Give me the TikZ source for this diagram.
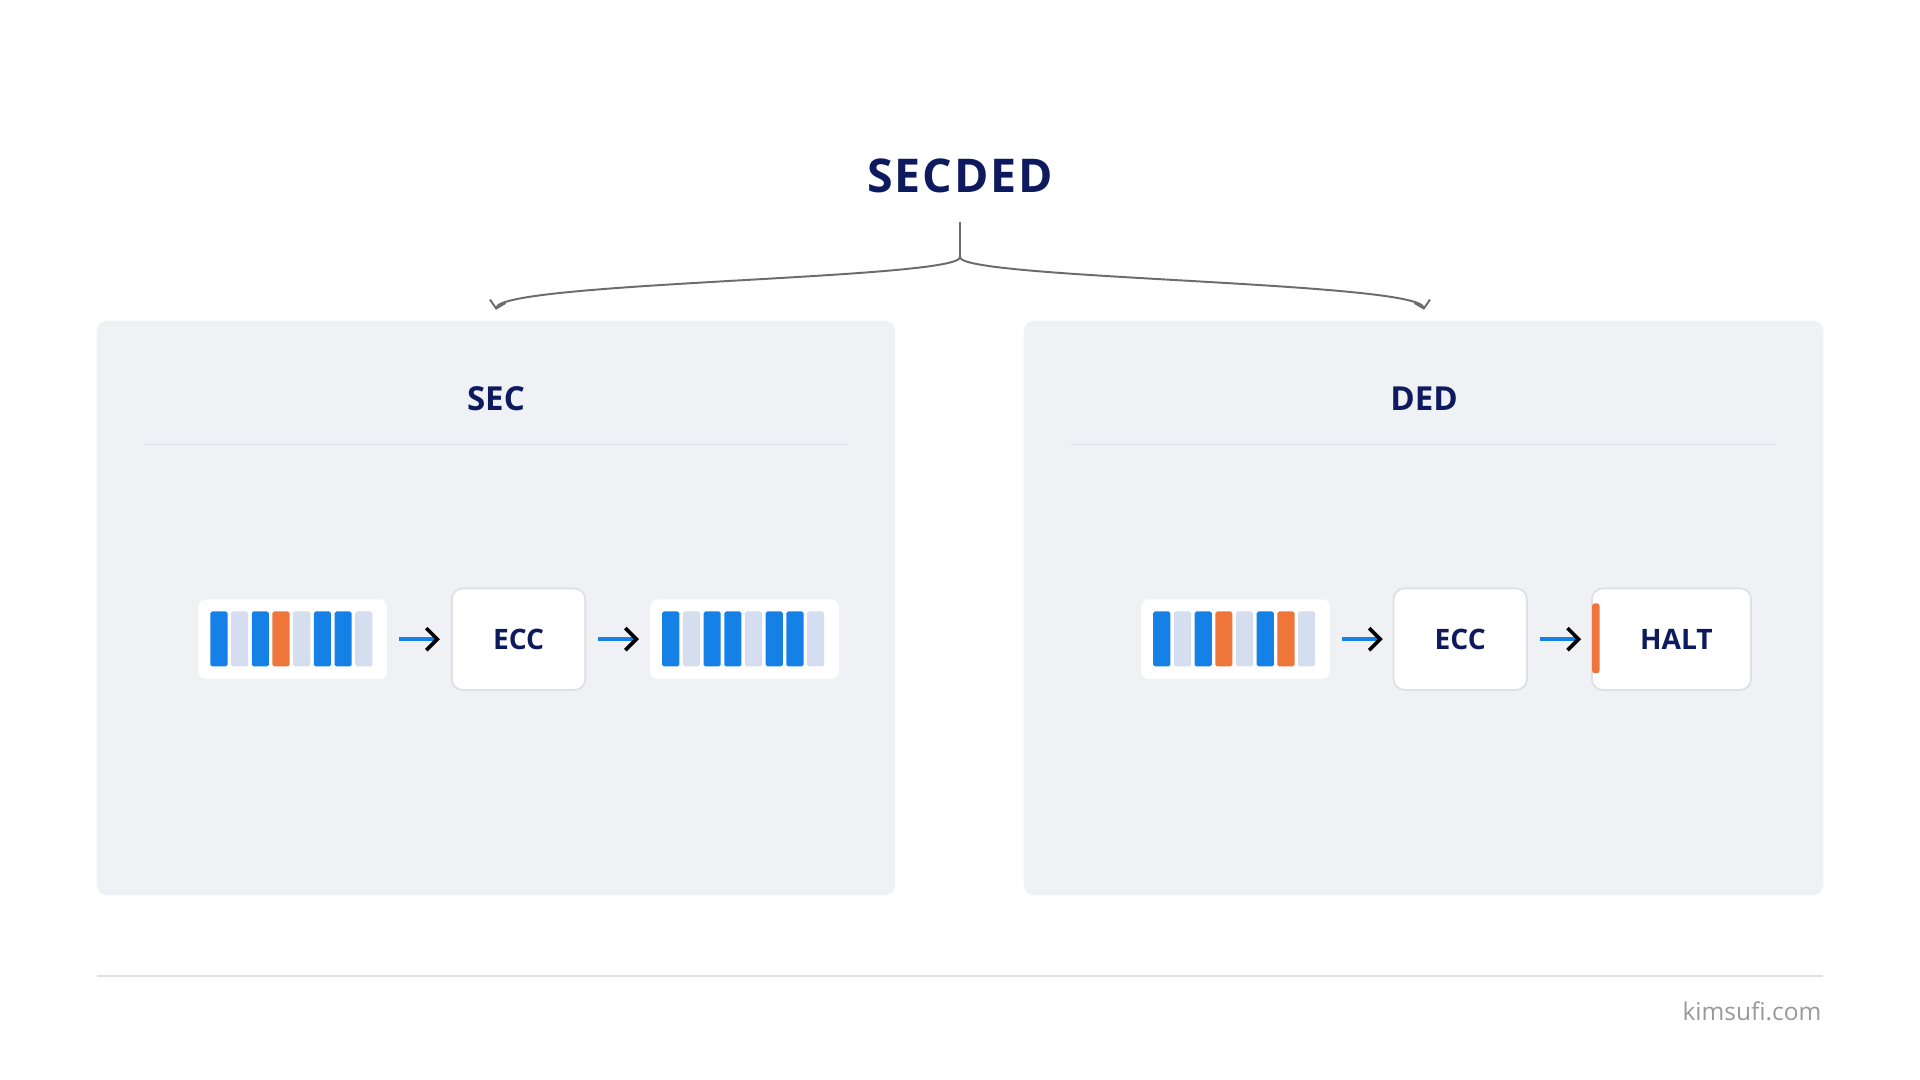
\documentclass[tikz,border=0pt]{standalone}
\usepackage{fontspec}
\setmainfont{Open Sans}
\usetikzlibrary{arrows.meta,positioning}
\definecolor{navy}{HTML}{0D1B5E}
\definecolor{bitblue}{HTML}{1580E6}
\definecolor{bitlight}{HTML}{D5DEEF}
\definecolor{bitorange}{HTML}{EE763B}
\definecolor{panelbg}{HTML}{F0F1F5}
\definecolor{rulegray}{HTML}{DDE0E6}
\tikzset{
  panel/.style={fill=panelbg,rounded corners=8pt},
  wordbox/.style={fill=white,rounded corners=6pt,minimum width=154pt,minimum height=65pt,inner sep=0pt},
  stage/.style={fill=white,draw=rulegray,line width=1.5pt,rounded corners=9pt,minimum height=83pt,inner sep=0pt,
    font=\bfseries\fontsize{23}{28}\selectfont,text=navy},
  flow/.style={bitblue,line width=3pt,-{Straight Barb[color=black,length=9pt,width=18pt,line width=3pt]}},
  branch/.style={gray!85!black,line width=1.6pt,-{Straight Barb[length=6pt,width=13pt,line width=1.6pt]}},
}
% row of eight bits inside a word box
\newcommand{\bitrow}[2]{%
  \foreach \c [count=\i] in {#2}
    \fill[\c,rounded corners=1.5pt] ([xshift=10pt+(\i-1)*16.9pt,yshift=-10pt]#1.north west) rectangle ++(14pt,-45pt);
}
\begin{document}
\begin{tikzpicture}[x=1pt,y=-1pt]
\useasboundingbox (0,0) rectangle (1568,882);
\node[font=\bfseries\fontsize{38}{46}\selectfont,text=navy] (top) at (784,144) {S\kern1.5pt E\kern1.5pt C\kern1.5pt D\kern1.5pt E\kern1.5pt D};
\coordinate (stem) at (784,181);
\coordinate (fork) at (784,210);
\coordinate (lend) at (405,253);
\coordinate (rend) at (1163,253);
\draw[gray!85!black,line width=1.6pt] (stem) -- (fork);
\draw[branch] (fork) .. controls (784,228) and (410,230) .. (lend);
\draw[branch] (fork) .. controls (784,228) and (1158,230) .. (rend);
% panels
\fill[panel] (79,262) rectangle (731,731);
\fill[panel] (836,262) rectangle (1489,731);
\node[font=\bfseries\fontsize{27}{32}\selectfont,text=navy] (sec) at (405,326) {SEC};
\node[font=\bfseries\fontsize{27}{32}\selectfont,text=navy] (ded) at (1163,326) {DED};
\draw[rulegray,line width=1pt] (118,363) -- (692,363);
\draw[rulegray,line width=1pt] (875,363) -- (1450,363);
% SEC row
\node[wordbox] (secin) at (239,522) {};
\bitrow{secin}{bitblue,bitlight,bitblue,bitorange,bitlight,bitblue,bitblue,bitlight}
\node[stage,minimum width=109pt] (seccc) at (423.5,522) {ECC};
\node[wordbox] (secout) at (608,522) {};
\bitrow{secout}{bitblue,bitlight,bitblue,bitblue,bitlight,bitblue,bitblue,bitlight}
\draw[flow] ([xshift=10pt]secin.east) -- ([xshift=-9pt]seccc.west);
\draw[flow] ([xshift=10pt]seccc.east) -- ([xshift=-9pt]secout.west);
% DED row
\node[wordbox] (dedin) at (1009,522) {};
\bitrow{dedin}{bitblue,bitlight,bitblue,bitorange,bitlight,bitblue,bitorange,bitlight}
\node[stage,minimum width=109pt] (dedcc) at (1192.5,522) {ECC};
\node[stage,minimum width=130pt] (halt) at (1365,522) {\hspace*{8pt}HALT};
\fill[bitorange,rounded corners=2pt] ([xshift=1pt,yshift=-13pt]halt.north west) rectangle ++(6pt,-57pt);
\draw[flow] ([xshift=10pt]dedin.east) -- ([xshift=-8pt]dedcc.west);
\draw[flow] ([xshift=10pt]dedcc.east) -- ([xshift=-8pt]halt.west);
% footer
\draw[rulegray,line width=1pt] (79,797) -- (1489,797);
\node[anchor=east,font=\fontsize{20}{24}\selectfont,text=gray!80] (site) at (1491,826) {kimsufi.com};
\end{tikzpicture}
\end{document}
